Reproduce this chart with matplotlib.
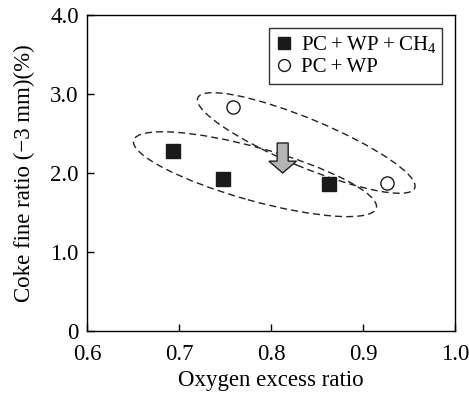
import matplotlib as mpl
mpl.use("Agg")
import matplotlib.pyplot as plt
from matplotlib.patches import Ellipse, FancyArrow
from matplotlib.transforms import ScaledTranslation

mpl.rcParams.update({
    "font.family": "Liberation Serif",
    "mathtext.fontset": "custom",
    "mathtext.rm": "Liberation Serif",
    "font.size": 16,
    "axes.linewidth": 1.0,
})

# data
x_ch4 = [0.693, 0.748, 0.863]
y_ch4 = [2.28, 1.93, 1.86]
x_wp = [0.759, 0.926]
y_wp = [2.84, 1.87]
x_ticks = [0.6, 0.7, 0.8, 0.9, 1.0]
x_ticklabels = ["0.6", "0.7", "0.8", "0.9", "1.0"]
y_ticks = [0, 1, 2, 3, 4]
y_ticklabels = ["0", "1.0", "2.0", "3.0", "4.0"]

W, H = 469, 397
fig = plt.figure(figsize=(W / 100, H / 100), dpi=100)
ax = fig.add_axes([87 / W, (H - 331) / H, 368 / W, 316 / H])

ts = "\u2009+\u2009"
ax.plot(x_ch4, y_ch4, ls="none", marker="s", ms=10, mfc="#1a1a1a", mec="#1a1a1a",
        label=f"PC{ts}WP{ts}CH$_4$")
ax.plot(x_wp, y_wp, ls="none", marker="o", ms=9.5, mfc="white", mec="#1a1a1a",
        mew=1.0, label=f"PC{ts}WP")

# dashed grouping ellipses (centre in data, axes in inches, angle in deg)
def group_ellipse(cx, cy, w_in, h_in, angle):
    tr = fig.dpi_scale_trans + ScaledTranslation(cx, cy, ax.transData)
    ax.add_patch(Ellipse((0, 0), w_in, h_in, angle=angle, transform=tr,
                         fill=False, ls=(0, (5, 3)), lw=1.0, ec="#222222"))

group_ellipse(0.7826, 1.985, 2.52, 0.53, -15.6)
group_ellipse(0.8383, 2.38, 2.35, 0.48, -22.6)

ax.add_patch(FancyArrow(0.8127, 2.38, 0, -0.38, width=0.012, head_width=0.03,
                        head_length=0.15, length_includes_head=True,
                        fc="#b4b4b4", ec="#222222", lw=1.0, zorder=3))

ax.set_xlim(0.6, 1.0)
ax.set_ylim(0, 4.0)
ax.set_xticks(x_ticks, x_ticklabels)
ax.set_yticks(y_ticks, y_ticklabels)
ax.tick_params(direction="in", length=5, width=1.0, labelsize=16.5,
               top=False, right=False)
ax.tick_params(axis="x", pad=9)
ax.tick_params(axis="y", pad=6)
ax.set_xlabel("Oxygen excess ratio", fontsize=16.5, labelpad=4)
ax.set_ylabel("Coke fine ratio (\u22123 mm)(%)", fontsize=16.5, labelpad=11)

leg = ax.legend(loc="upper right", bbox_to_anchor=(0.965, 0.959), borderaxespad=0,
                fontsize=15, frameon=True, fancybox=False, edgecolor="black",
                handlelength=0.8, handletextpad=0.4, borderpad=0.3,
                labelspacing=0.1, markerscale=0.9)
leg.get_frame().set_linewidth(1.0)

fig.savefig("out.png", dpi=100)
